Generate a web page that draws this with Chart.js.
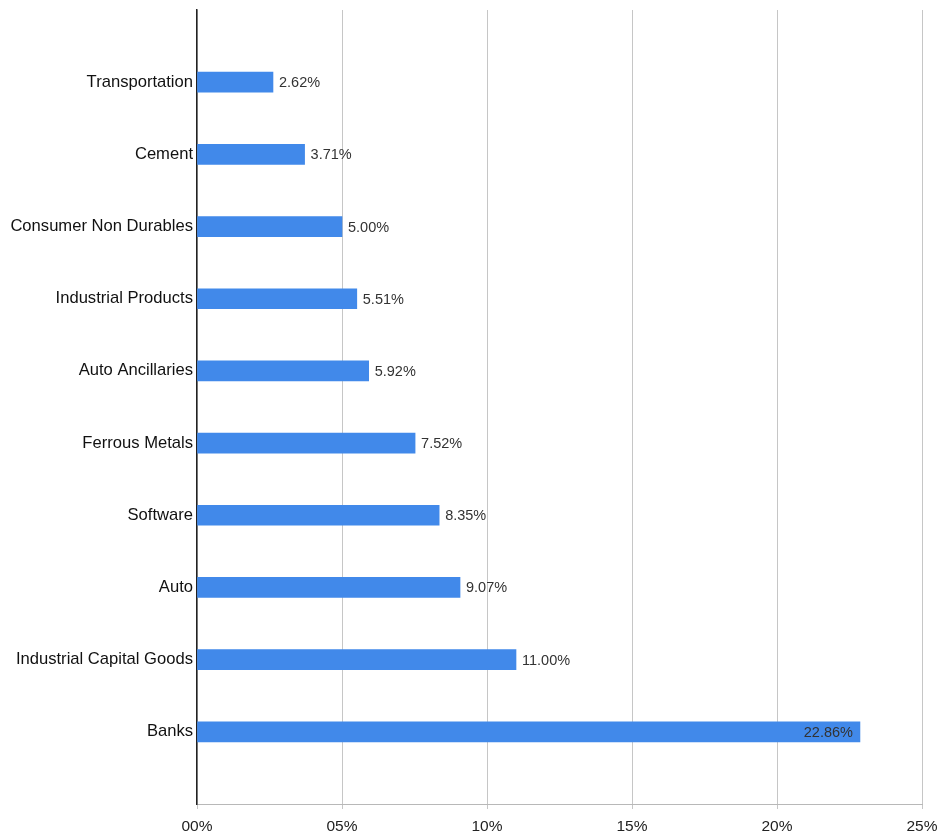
<!DOCTYPE html>
<html>
<head>
<meta charset="utf-8">
<script src="https://cdn.jsdelivr.net/npm/chart.js@4"></script>
<style>
html,body{margin:0;padding:0;background:#fff;}
#wrap{width:942px;height:836px;position:relative;}
</style>
</head>
<body>
<div id="wrap"><canvas id="c" width="942" height="836"></canvas></div>
<script>
const categories = ["Transportation","Cement","Consumer Non Durables","Industrial Products","Auto Ancillaries","Ferrous Metals","Software","Auto","Industrial Capital Goods","Banks"];
const values = [2.62, 3.71, 5.00, 5.51, 5.92, 7.52, 8.35, 9.07, 11.00, 22.86];
const xTicks = [0, 5, 10, 15, 20, 25];

const FONT = "'Liberation Sans', Arial, sans-serif";
const INSIDE_THRESHOLD = 20;

const labelPlugin = {
  id: 'barLabels',
  afterDatasetsDraw(chart) {
    const ctx = chart.ctx;
    const meta = chart.getDatasetMeta(0);
    ctx.save();
    ctx.font = "14.5px " + FONT;
    ctx.fillStyle = '#333';
    ctx.textBaseline = 'middle';
    meta.data.forEach((bar, i) => {
      const v = values[i];
      const txt = v.toFixed(2) + '%';
      if (v > INSIDE_THRESHOLD) {
        ctx.textAlign = 'right';
        ctx.fillText(txt, bar.x - 7, bar.y + 1);
      } else {
        ctx.textAlign = 'left';
        ctx.fillText(txt, bar.x + 6, bar.y + 1);
      }
    });
    ctx.restore();
  }
};

new Chart(document.getElementById('c'), {
  type: 'bar',
  data: {
    datasets: [{
      data: values.map((v, i) => ({x: v, y: i})),
      backgroundColor: '#4189ea',
      borderWidth: 0,
      barThickness: 20
    }]
  },
  options: {
    indexAxis: 'y',
    responsive: false,
    animation: false,
    devicePixelRatio: 1,
    layout: {padding: {top: 10, right: 20, left: 0, bottom: 0}},
    plugins: {legend: {display: false}, tooltip: {enabled: false}},
    scales: {
      x: {
        type: 'linear',
        min: 0, max: 25,
        afterBuildTicks: s => { s.ticks = xTicks.map(v => ({value: v})); },
        afterFit: s => { s.height = 32; s.paddingLeft = 0; s.paddingRight = 0; },
        grid: {color: '#c6c6c6', lineWidth: 1, tickLength: 5, drawOnChartArea: true},
        border: {color: '#b8b8b8', width: 1},
        ticks: {
          font: {family: FONT, size: 15.5},
          color: '#222',
          padding: 8,
          maxRotation: 0,
          callback: v => String(v).padStart(2, '0') + '%'
        }
      },
      y: {
        type: 'linear',
        min: -1, max: 10,
        offset: false,
        reverse: true,
        afterBuildTicks: s => { s.ticks = categories.map((c, i) => ({value: i})); },
        afterFit: s => { s.width = 197; s.paddingTop = 0; s.paddingBottom = 0; },
        grid: {display: false, tickLength: 0},
        border: {display: true, color: '#222', width: 1.5},
        ticks: {
          font: {family: FONT, size: 16.6},
          color: '#111',
          padding: 4,
          autoSkip: false,
          callback: v => categories[v] ?? ''
        }
      }
    }
  },
  plugins: [labelPlugin]
});
</script>
</body>
</html>
